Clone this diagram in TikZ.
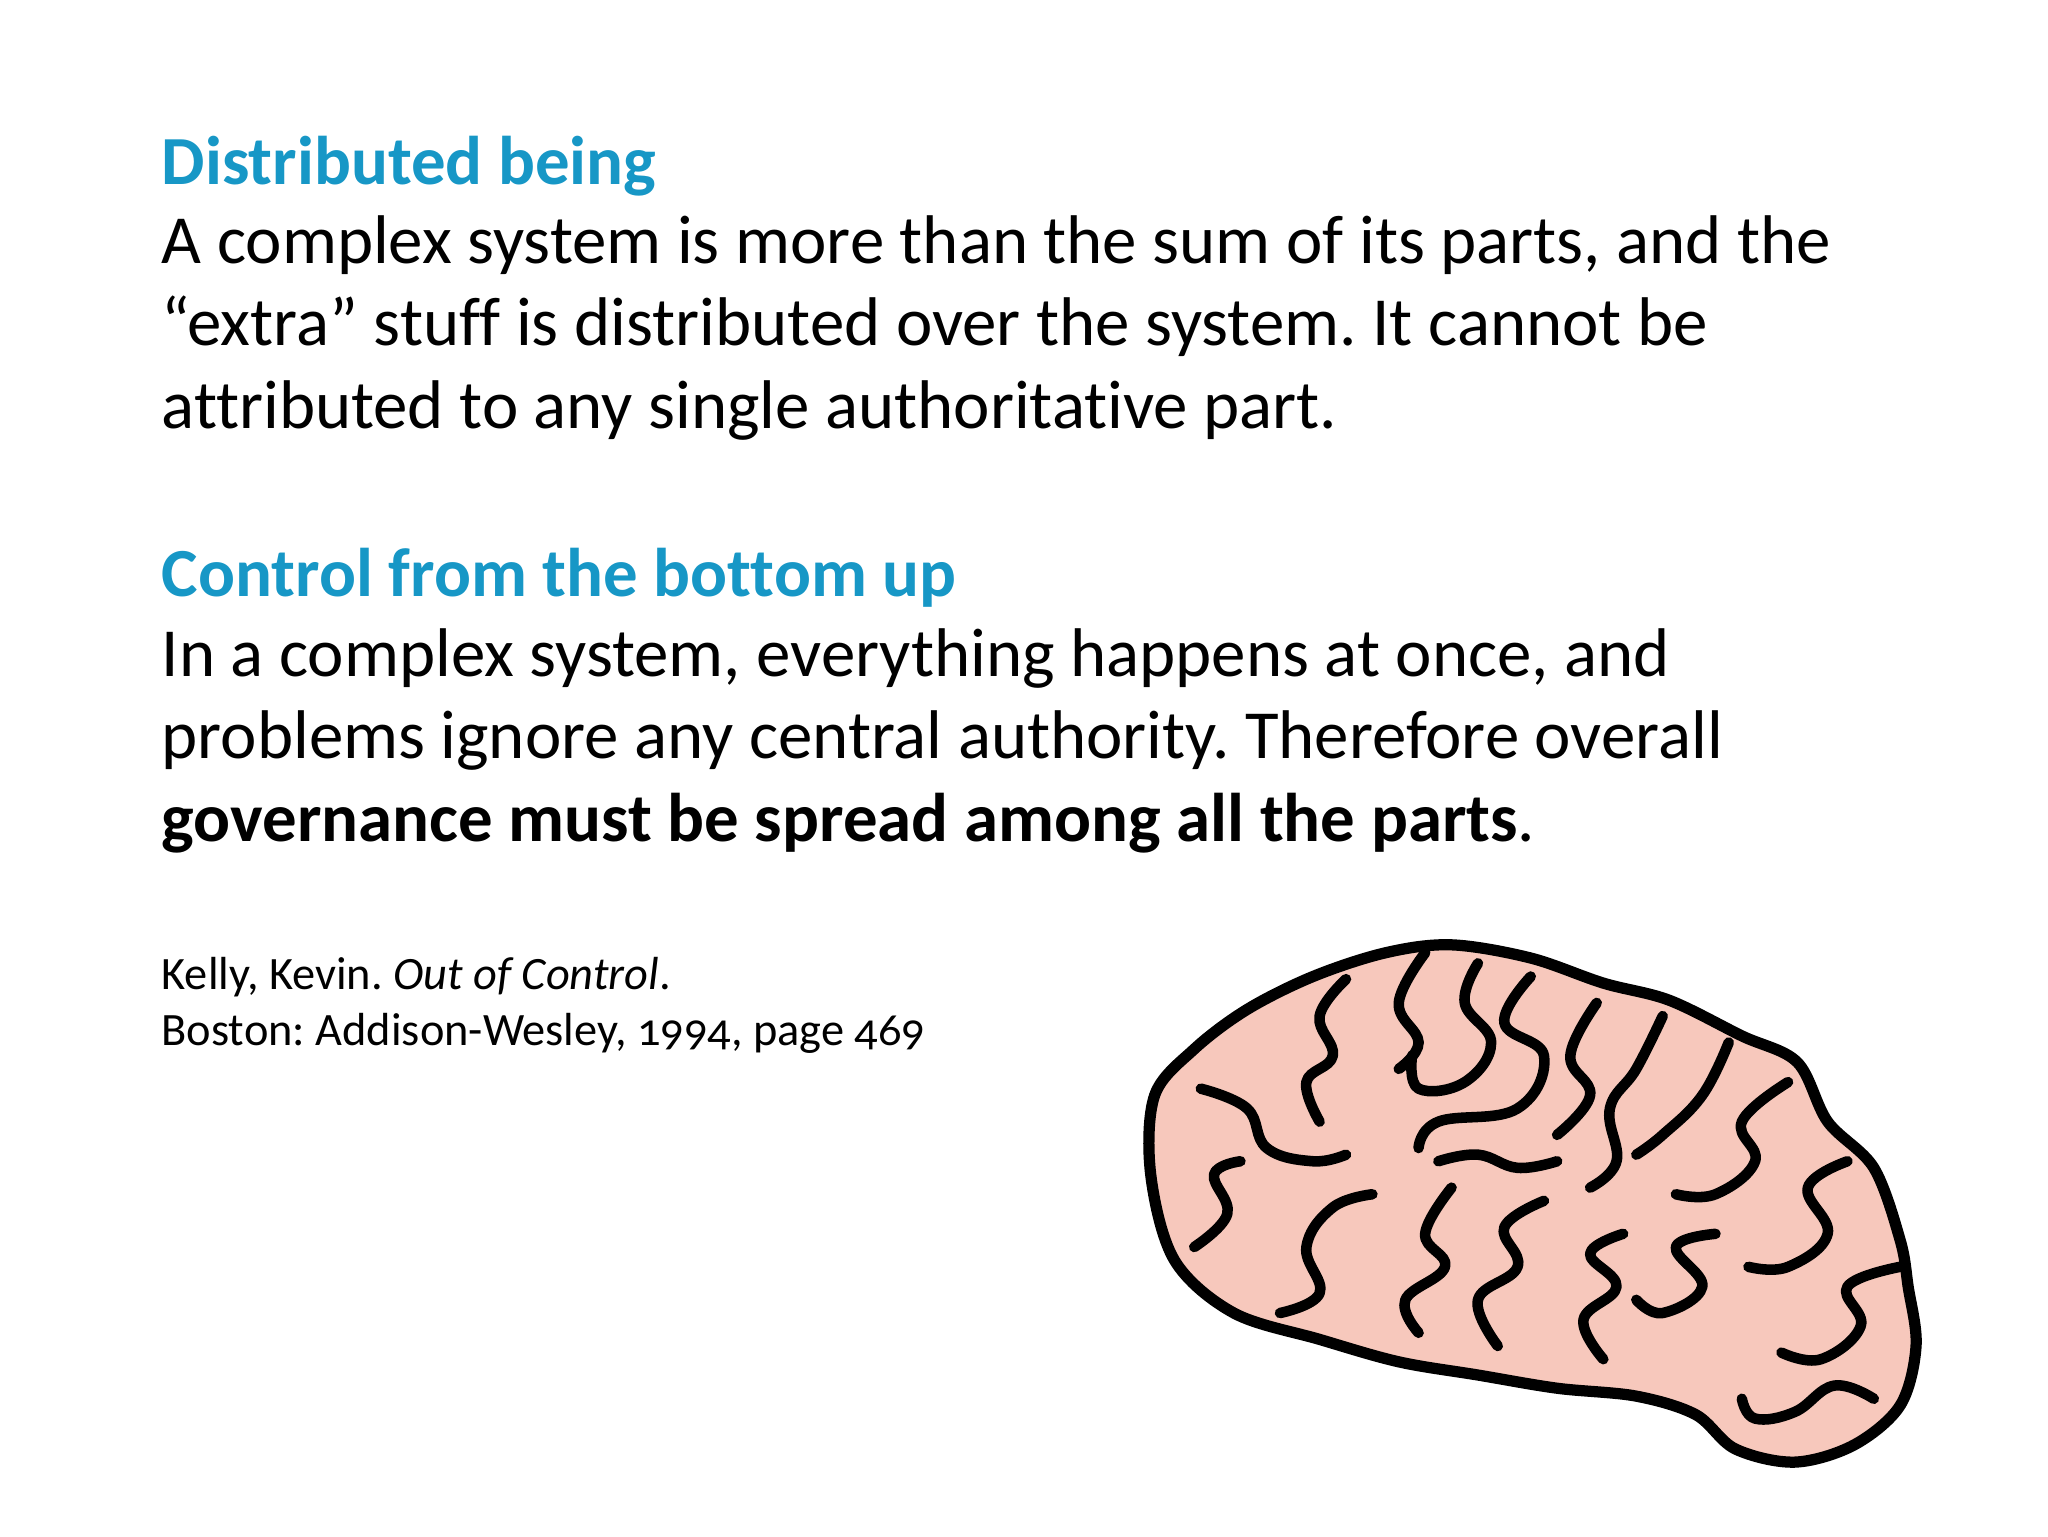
\documentclass[tikz,border=0pt]{standalone}
\usepackage{fontspec}
\setmainfont{Carlito}[Ligatures={NoCommon}]
\newfontfamily\oldnum{Carlito}[Numbers=OldStyle]
\definecolor{hblue}{HTML}{1797C6}
\definecolor{bpink}{HTML}{F7C8BC}
\begin{document}
\frenchspacing
\begin{tikzpicture}[x=0.0132cm,y=-0.0132cm,
  ln/.style={anchor=base west,inner sep=0pt,font=\fontsize{19.6}{24}\selectfont},
  hd/.style={ln,text=hblue,font=\fontsize{19.6}{24}\selectfont\bfseries},
  ct/.style={anchor=base west,inner sep=0pt,font=\oldnum\fontsize{13.2}{16}\selectfont},
  sq/.style={line width=3pt,line cap=round,line join=round}]
\useasboundingbox (0,0) rectangle (1552,1164);
\node[hd] (h1) at (122,140) {Distributed being};
\node[ln] (a1) at (122,200) {A complex system is more than the sum of its parts, and the};
\node[ln] (a2) at (122,262) {“extra” stuff is distributed over the system. It cannot be};
\node[ln] (a3) at (122,325) {attributed to any single authoritative part.};
\node[hd] (h2) at (122,452) {Control from the bottom up};
\node[ln] (b1) at (122,513) {In a complex system, everything happens at once, and};
\node[ln] (b2) at (122,575) {problems ignore any central authority. Therefore overall};
\node[ln] (b3) at (122,638) {\textbf{governance must be spread among all the parts}.};
\node[ct] (c1) at (122,750) {Kelly, Kevin. \textit{Out of Control}.};
\node[ct] (c2) at (122,792) {Boston: Addison-Wesley, 1994, page 469};
% brain
\draw[fill=bpink,line width=3.2pt,line join=round] plot[smooth cycle,tension=0.55] coordinates{
 (1100,716) (1160,726) (1215,745) (1265,758) (1320,785) (1362,805) (1385,850) (1420,885)
 (1440,940) (1446,975) (1452,1020) (1440,1065) (1405,1095) (1360,1108) (1315,1098)
 (1285,1072) (1240,1058) (1180,1052) (1120,1042) (1060,1032) (1000,1015) (935,995)
 (890,955) (872,890) (875,830) (905,795) (945,765) (995,740) (1050,722)};
\begin{scope}[sq]
\draw plot[smooth,tension=0.7] coordinates{(1020,742) (1000,770) (1010,800) (990,820) (1000,850)};
\draw plot[smooth,tension=0.7] coordinates{(1080,722) (1060,760) (1075,790) (1060,810)};
\draw plot[smooth,tension=0.7] coordinates{(1120,730) (1110,760) (1130,790) (1110,820) (1075,825) (1070,800)};
\draw plot[smooth,tension=0.7] coordinates{(1160,740) (1140,775) (1170,800) (1150,840) (1090,850) (1075,870)};
\draw plot[smooth,tension=0.7] coordinates{(1210,760) (1190,800) (1205,830) (1180,860)};
\draw plot[smooth,tension=0.7] coordinates{(1260,770) (1240,810) (1220,840) (1225,880) (1205,900)};
\draw plot[smooth,tension=0.7] coordinates{(1310,790) (1290,830) (1260,860) (1240,875)};
\draw plot[smooth,tension=0.7] coordinates{(1355,820) (1320,850) (1330,880) (1300,905) (1270,905)};
\draw plot[smooth,tension=0.7] coordinates{(1400,880) (1370,900) (1385,935) (1355,960) (1325,960)};
\draw plot[smooth,tension=0.7] coordinates{(1440,960) (1400,975) (1410,1005) (1380,1030) (1350,1025)};
\draw plot[smooth,tension=0.7] coordinates{(1420,1060) (1390,1050) (1360,1070) (1330,1075) (1320,1060)};
\draw plot[smooth,tension=0.7] coordinates{(1300,935) (1270,945) (1290,975) (1260,995) (1240,985)};
\draw plot[smooth,tension=0.7] coordinates{(1230,935) (1205,950) (1225,975) (1200,1000) (1215,1030)};
\draw plot[smooth,tension=0.7] coordinates{(1170,910) (1140,930) (1150,960) (1120,985) (1135,1020)};
\draw plot[smooth,tension=0.7] coordinates{(1100,900) (1080,935) (1095,960) (1065,985) (1075,1010)};
\draw plot[smooth,tension=0.7] coordinates{(1040,905) (1010,915) (990,945) (1000,980) (970,995)};
\draw plot[smooth,tension=0.7] coordinates{(940,880) (920,890) (930,920) (905,945)};
\draw plot[smooth,tension=0.7] coordinates{(910,825) (945,840) (960,870) (995,880) (1020,875)};
\draw plot[smooth,tension=0.7] coordinates{(1180,880) (1150,885) (1120,875) (1090,880)};
\end{scope}
\end{tikzpicture}
\end{document}
